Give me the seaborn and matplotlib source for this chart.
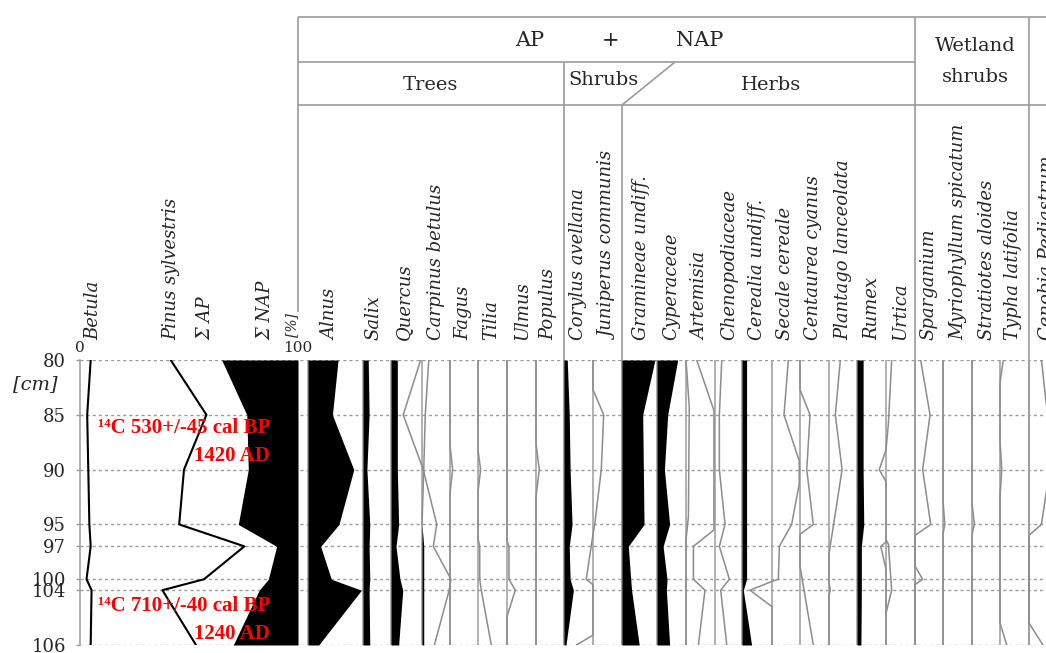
import numpy as np
import matplotlib.pyplot as plt
import seaborn as sns

sns.set_theme(style="white")
plt.rcParams["font.family"] = ["DejaVu Serif"]

W, H = 1046, 653
PX_PER_PCT = 2.18          # horizontal scale shared by every column (px per %)
GRAY = "#9b9b9b"
CURVE = "#8c8c8c"

# sample plotting positions and the depths printed next to them
depth = [80, 85, 90, 95, 97, 100, 101, 106]
depth_labels = ["80", "85", "90", "95", "97", "100", "104", "106"]

# summary panel, cumulative %
betula = [4.9, 3.3, 3.8, 4.3, 4.9, 3.0, 5.3, 4.9]
pinus_cum = [41.6, 58.0, 47.7, 45.5, 75.4, 56.9, 37.8, 53.2]
ap_sum = [65.0, 76.5, 77.2, 72.6, 90.2, 86.4, 82.2, 70.3]

taxa = ["Alnus", "Salix", "Quercus", "Carpinus betulus", "Fagus", "Tilia", "Ulmus", "Populus",
        "Corylus avellana", "Juniperus communis",
        "Gramineae undiff.", "Cyperaceae", "Artemisia", "Chenopodiaceae", "Cerealia undiff.",
        "Secale cereale", "Centaurea cyanus", "Plantago lanceolata", "Rumex", "Urtica",
        "Sparganium", "Myriophyllum spicatum", "Stratiotes aloides", "Typha latifolia",
        "Cenobia Pediastrum"]
col_px = [308, 363, 391, 422, 450, 478, 507, 536, 564, 593, 622, 657, 686, 715, 742,
          772, 800, 829, 857, 886, 915, 943, 972, 1000, 1029]
label_px = [330, 373, 404, 436, 463, 491, 522, 548, 578, 609, 641, 671, 700, 729, 757,
            785, 813, 843, 872, 900, 928, 958, 987, 1013, 1047]

# black silhouettes (% at each sample)
alnus = [13.8, 11.2, 21.0, 14.2, 5.8, 10.7, 24.5, 4.9]
salix = [2.4, 2.8, 1.8, 3.1, 2.8, 3.1, 2.8, 3.1]
quercus = [2.9, 2.9, 2.9, 3.5, 2.3, 4.1, 5.4, 3.5]
carpinus = [0, 0, 0, 0, 0.8, 0.8, 0.8, 0.8]
corylus = [1.5, 2.4, 2.8, 3.7, 2.4, 2.8, 4.3, 0.9]
gramineae = [15.1, 9.5, 9.8, 10.1, 2.9, 4.0, 4.4, 7.9]
cyperaceae = [9.5, 4.9, 3.4, 5.8, 2.8, 4.6, 4.3, 5.8]
cerealia = [2.1, 2.1, 2.1, 2.1, 2.1, 2.1, 0.6, 4.4]
rumex = [2.8, 2.8, 2.8, 3.1, 2.0, 2.0, 2.0, 1.8]

# grey curves
quercus_x5 = [13.6, 5.6, 14.8, 21.0, 19.4, 27.5, 26.7, 19.9]
carpinus_d = [80, 85, 90, 95]
carpinus_x = [3.1, 1.5, 0.8, 0]
fagus_d = [80, 87.8, 90, 92.2, 106]
fagus = [0, 0, 1.2, 0, 0]
tilia_d = [80, 88.2, 90, 92.0, 96.3, 97, 100, 101, 106]
tilia = [0, 0, 1.2, 0, 0, 0.8, 0.8, 1.5, 6.1]
ulmus_d = [80, 96.5, 97, 100, 101, 103.4, 106]
ulmus = [0, 0, 0.9, 0.9, 3.8, 0, 0]
populus_d = [80, 87.6, 90, 92.5, 106]
populus = [0, 0, 1.5, 0, 0]
juniperus_d = [80, 82.7, 85, 90, 95, 95.9, 100, 100.5, 105.1, 106]
juniperus = [0, 0, 4.9, 3.8, 0.8, 0, -3.1, 0, 0, -7.6]
artemisia_d = [80, 84.3, 94.3, 96.4, 106]
artemisia = [0, 1.5, 1.1, 0, 0]
artemisia_x_d = [80, 84.6, 95.5, 97, 100, 101, 106]
artemisia_x = [4.9, 12.8, 12.8, 3.4, 3.4, 8.7, 5.7]
chenopodiaceae = [3.1, 2.0, 2.0, 4.6, 2.0, 6.6, 2.6, 5.4]
secale_d = [80, 85, 89.2, 91.3, 95, 97, 100, 100.2, 101, 102.5, 106]
secale = [7.5, 5.5, 12.5, 12.5, 9.0, 3.4, 2.9, 0, -10.1, 0, 0]
centaurea_d = [80, 82.7, 85, 90, 95, 95.9, 98.8, 106]
centaurea = [0, 0, 4.6, 3.1, 6.1, 0, 0, 6.1]
plantago_d = [80, 85, 90, 95, 97.7, 100.3, 101, 101.5, 106]
plantago = [5.2, 2.9, 6.0, 2.1, 0, 0, 0.6, 0, 0]
urtica_d = [80, 85.8, 88.2, 90, 91.1, 96.6, 97, 99.1, 106]
urtica = [2.6, 1.1, 0, -3.1, 0, 0, -2.4, 0, 0]
urtica_b_d = [96.4, 96.8, 101, 103.1]
urtica_b = [0, 1.1, 2.6, 0]
sparganium_d = [80, 85, 90, 95, 96, 98.8, 100, 100.5, 106]
sparganium = [2.6, 6.9, 3.5, 7.2, 0, 0, 3.5, 0, 0]
myriophyllum_d = [80, 92.8, 95, 95.9, 106]
myriophyllum = [0, 0, 0.8, 0, 0]
stratiotes_d = [80, 93.1, 95, 95.9, 106]
stratiotes = [0, 0, 1.1, 0, 0]
typha_d = [80, 82.1, 87.3, 90, 92.5, 104.0, 106]
typha = [1.5, 0, 0, 0.8, 0, 0, 3.1]
cenobia_d = [80, 85, 90, 95, 96, 104.0, 106]
cenobia = [5.7, 8.5, 9.5, 5.7, 0, 0, 6.4]

silhouettes = {"Alnus": alnus, "Salix": salix, "Quercus": quercus, "Carpinus betulus": carpinus,
               "Corylus avellana": corylus, "Gramineae undiff.": gramineae, "Cyperaceae": cyperaceae,
               "Cerealia undiff.": cerealia, "Rumex": rumex}
curves = [("Quercus", depth, quercus_x5), ("Carpinus betulus", carpinus_d, carpinus_x),
          ("Fagus", fagus_d, fagus), ("Tilia", tilia_d, tilia), ("Ulmus", ulmus_d, ulmus),
          ("Populus", populus_d, populus), ("Juniperus communis", juniperus_d, juniperus),
          ("Artemisia", artemisia_d, artemisia), ("Artemisia", artemisia_x_d, artemisia_x),
          ("Chenopodiaceae", depth, chenopodiaceae), ("Secale cereale", secale_d, secale),
          ("Centaurea cyanus", centaurea_d, centaurea), ("Plantago lanceolata", plantago_d, plantago),
          ("Urtica", urtica_d, urtica), ("Urtica", urtica_b_d, urtica_b),
          ("Sparganium", sparganium_d, sparganium), ("Myriophyllum spicatum", myriophyllum_d, myriophyllum),
          ("Stratiotes aloides", stratiotes_d, stratiotes), ("Typha latifolia", typha_d, typha),
          ("Cenobia Pediastrum", cenobia_d, cenobia)]

offset = {t: (px - 80) / PX_PER_PCT for t, px in zip(taxa, col_px)}

fig = plt.figure(figsize=(W / 100, H / 100), dpi=100)

# background layer in pixel coordinates: header box and labels
bg = fig.add_axes([0, 0, 1, 1])
bg.set_xlim(0, W)
bg.set_ylim(H, 0)
bg.axis("off")

def seg(x, y):
    bg.plot(x, y, color=GRAY, lw=1.2, solid_capstyle="butt")

seg([298, W], [17, 17])
seg([298, 915], [62, 62])
seg([298, W], [105, 105])
seg([298, 298], [17, 312])
seg([564, 564], [62, 645])
seg([675, 622], [62, 105])
seg([622, 622], [105, 645])
seg([915, 915], [17, 645])
seg([1029, 1029], [17, 645])

bg.text(530, 40, "AP", fontsize=15, ha="center", va="center")
bg.text(611, 40, "+", fontsize=15, ha="center", va="center")
bg.text(700, 40, "NAP", fontsize=15, ha="center", va="center")
bg.text(430, 85, "Trees", fontsize=14, ha="center", va="center")
bg.text(604, 80, "Shrubs", fontsize=14, ha="center", va="center")
bg.text(771, 85, "Herbs", fontsize=14, ha="center", va="center")
bg.text(975, 46, "Wetland", fontsize=14, ha="center", va="center")
bg.text(975, 77, "shrubs", fontsize=14, ha="center", va="center")

for name, px in zip(["Betula", "Pinus sylvestris", "Σ AP", "Σ NAP"], [93, 171, 206, 266]):
    bg.text(px, 340, name, rotation=90, style="italic", fontsize=13, ha="center", va="bottom")
for name, px in zip(taxa, label_px):
    bg.text(px, 340, name, rotation=90, style="italic", fontsize=13, ha="center", va="bottom")
bg.text(292, 337, "[%]", rotation=90, style="italic", fontsize=10, ha="center", va="bottom")
bg.text(80, 348, "0", fontsize=11, ha="center", va="center")
bg.text(298, 348, "100", fontsize=11, ha="center", va="center")
bg.text(35, 384, "[cm]", style="italic", fontsize=14, ha="center", va="center")

# data layer
ax = fig.add_axes([80 / W, 1 - 645 / H, (W - 80) / W, 285 / H])
ax.patch.set_alpha(0)
xmax = (W - 80) / PX_PER_PCT

ax.hlines(depth, 0, xmax, colors=GRAY, linestyles=(0, (2.2, 2.2)), lw=1, zorder=0.5)
ax.vlines([offset[t] for t in taxa], 80, 106, colors=GRAY, lw=1.1, zorder=1)

# summary panel
ax.fill_betweenx(depth, ap_sum, 100, color="black", lw=0, zorder=2)
sns.lineplot(x=betula, y=depth, orient="y", sort=False, estimator=None, color="black",
             lw=1.5, ax=ax, legend=False)
sns.lineplot(x=pinus_cum, y=depth, orient="y", sort=False, estimator=None, color="black",
             lw=1.5, ax=ax, legend=False)

for t, vals in silhouettes.items():
    o = offset[t]
    ax.fill_betweenx(depth, o, o + np.array(vals), color="black", lw=0, zorder=3)

for t, d, vals in curves:
    sns.lineplot(x=offset[t] + np.array(vals), y=d, orient="y", sort=False, estimator=None,
                 color=CURVE, lw=1.1, ax=ax, legend=False)

red = dict(color="#ff0000", fontsize=15, fontweight="bold",
           family=["Liberation Serif", "DejaVu Serif"], ha="right", va="center", zorder=5)
ax.text(87.2, 86.2, "¹⁴C 530+/-45 cal BP", **red)
ax.text(87.2, 88.8, "1420 AD", **red)
ax.text(87.2, 102.4, "¹⁴C 710+/-40 cal BP", **red)
ax.text(87.2, 105.0, "1240 AD", **red)

ax.set_xlim(0, xmax)
ax.set_ylim(106, 80)
ax.set_yticks(depth, labels=depth_labels)
ax.set_xticks([])
ax.set_xlabel("")
ax.set_ylabel("")
ax.tick_params(axis="y", left=True, length=3, width=1, color=GRAY, labelsize=13, pad=7)
for s in ["top", "right", "bottom"]:
    ax.spines[s].set_visible(False)
ax.spines["left"].set_color(GRAY)
ax.spines["left"].set_linewidth(1.1)

fig.savefig("out.png", dpi=100)
